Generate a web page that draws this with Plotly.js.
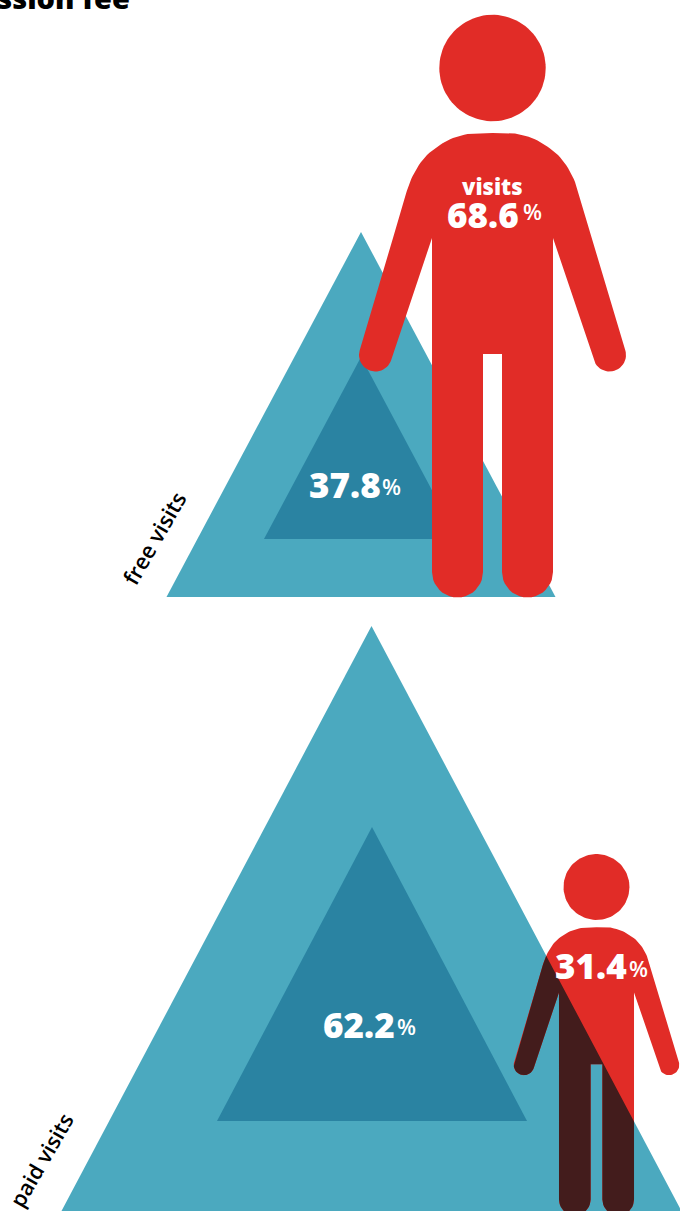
<!DOCTYPE html>
<html>
<head>
<meta charset="utf-8">
<script src="https://cdn.plot.ly/plotly-3.0.1.min.js"></script>
<style>html,body{margin:0;padding:0;background:#fff;overflow:hidden}#chart{width:680px;height:1211px}</style>
</head>
<body>
<div id="chart"></div>
<script>
// ---- data ----
const chartTitle = "Admission fee";
const categories = ["free visits", "paid visits"];
const visitShare = [68.6, 31.4];
const revenueShare = [37.8, 62.2];
const visitsLabel = "visits";

// ---- layout constants (pixel scale of the page) ----
const C = {outer:"#4ba9bf", inner:"#2a83a2", red:"#e12c27", dark:"#431c1c"};
const FONT = "'Open Sans', 'Noto Sans', sans-serif";
const outerTri = [{ax:361, ay:232, by:597, half:194.5}, {ax:371.5, ay:626, by:1211, half:310}];
const innerTri = [{ax:361, ay:357, by:539, half:97}, {ax:372, ay:827, by:1121, half:155}];
const people = [{cx:492.5, cy:68, s:1}, {cx:596.5, cy:887, s:0.62}];

function tri(t){ return [[t.ax,t.ay],[t.ax-t.half,t.by],[t.ax+t.half,t.by],[t.ax,t.ay]]; }

function catmull(p, n){
  const out=[];
  for(let i=0;i<p.length-1;i++){
    const p0=p[Math.max(i-1,0)],p1=p[i],p2=p[i+1],p3=p[Math.min(i+2,p.length-1)];
    for(let k=0;k<n;k++){
      const t=k/n,t2=t*t,t3=t2*t;
      out.push([0,1].map(j=>0.5*(2*p1[j]+(p2[j]-p0[j])*t+(2*p0[j]-5*p1[j]+4*p2[j]-p3[j])*t2+(3*p1[j]-p0[j]-3*p2[j]+p3[j])*t3)));
    }
  }
  out.push(p[p.length-1]);
  return out;
}
function arc(cx,cy,r,a0,a1,n){
  const o=[];
  for(let i=0;i<=n;i++){const a=(a0+(a1-a0)*i/n)*Math.PI/180;o.push([cx+r*Math.cos(a),cy+r*Math.sin(a)]);}
  return o;
}
// left half of the figure outline, relative to head centre, at the scale of the large figure
function leftHalf(){
  let pts=[[0,65]];
  pts=pts.concat(catmull([[-22.5,65.5],[-39.5,70],[-52.5,77],[-65.5,87],[-75.5,100],[-82.5,114],[-87.5,129],[-92.5,147],[-99.5,170]],5));
  pts=pts.concat(arc(-117,287,16.5,197,17,24));
  pts.push([-60.5,170]);
  pts.push([-60.5,504]);
  pts=pts.concat(arc(-35,504,25.5,180,0,20));
  pts.push([-9.5,286],[0,286]);
  return pts;
}
function figure(p){
  const l=leftHalf();
  const r=l.slice().reverse().map(q=>[-q[0],q[1]]);
  return l.concat(r).map(q=>[p.cx+q[0]*p.s,p.cy+q[1]*p.s]);
}
function clipInside(polygon,a,b){
  const side=q=>(b[0]-a[0])*(q[1]-a[1])-(b[1]-a[1])*(q[0]-a[0]);
  const out=[];
  for(let i=0;i<polygon.length;i++){
    const c=polygon[i],n=polygon[(i+1)%polygon.length],sc=side(c),sn=side(n);
    if(sc>=0) out.push(c);
    if((sc>=0)!==(sn>=0)){const t=sc/(sc-sn);out.push([c[0]+(n[0]-c[0])*t,c[1]+(n[1]-c[1])*t]);}
  }
  return out;
}
function poly(xy,color){
  return {type:"scatter",mode:"lines",x:xy.map(q=>q[0]),y:xy.map(q=>q[1]),fill:"toself",fillcolor:color,line:{width:0,color:color},hoverinfo:"skip",showlegend:false};
}
function head(p,color){return poly(arc(p.cx,p.cy,53.2*p.s,0,360,90),color);}

const traces=[];
traces.push(poly(tri(outerTri[0]),C.outer),poly(tri(innerTri[0]),C.inner));
traces.push(poly(figure(people[0]),C.red),head(people[0],C.red));
traces.push(poly(tri(outerTri[1]),C.outer),poly(tri(innerTri[1]),C.inner));
const small=figure(people[1]);
traces.push(poly(small,C.red),head(people[1],C.red));
const o=outerTri[1];
traces.push(poly(clipInside(small,[o.ax,o.ay],[o.ax+o.half,o.by]),C.dark));

function note(x,y,text,size,color,weight,extra){
  return Object.assign({x:x,y:y,xref:"x",yref:"y",text:text,showarrow:false,xanchor:"center",yanchor:"middle",font:{family:FONT,size:size,color:color,weight:weight}},extra||{});
}
function pctNote(v,xd,yd,xp,yp){
  return [note(xd,yd,v.toFixed(1),35,"#fff",800), note(xp,yp,"%",22,"#fff",600)];
}
const annotations=[
  note(132,0,chartTitle,29,"#000",800,{xanchor:"right",yanchor:"bottom",yshift:-19}),
  note(492.5,186,visitsLabel,22,"#fff",800),
  ...pctNote(visitShare[0],482.5,214,532,211),
  ...pctNote(visitShare[1],591,965.5,638,968),
  ...pctNote(revenueShare[0],344.5,484.5,391,485.5),
  ...pctNote(revenueShare[1],358.5,1024,406.5,1025.5),
  note(153.5,537.5,categories[0],22,"#000",600,{textangle:-60}),
  note(40.5,1160,categories[1],21.5,"#000",600,{textangle:-60})
];
const hidden={visible:false,fixedrange:true,showgrid:false,zeroline:false};
Plotly.newPlot("chart",traces,{
  width:680,height:1211,margin:{l:0,r:0,t:0,b:0},paper_bgcolor:"#fff",plot_bgcolor:"#fff",showlegend:false,
  xaxis:Object.assign({range:[0,680]},hidden),
  yaxis:Object.assign({range:[1211,0]},hidden),
  annotations:annotations
},{displayModeBar:false,staticPlot:true});
</script>
</body>
</html>
